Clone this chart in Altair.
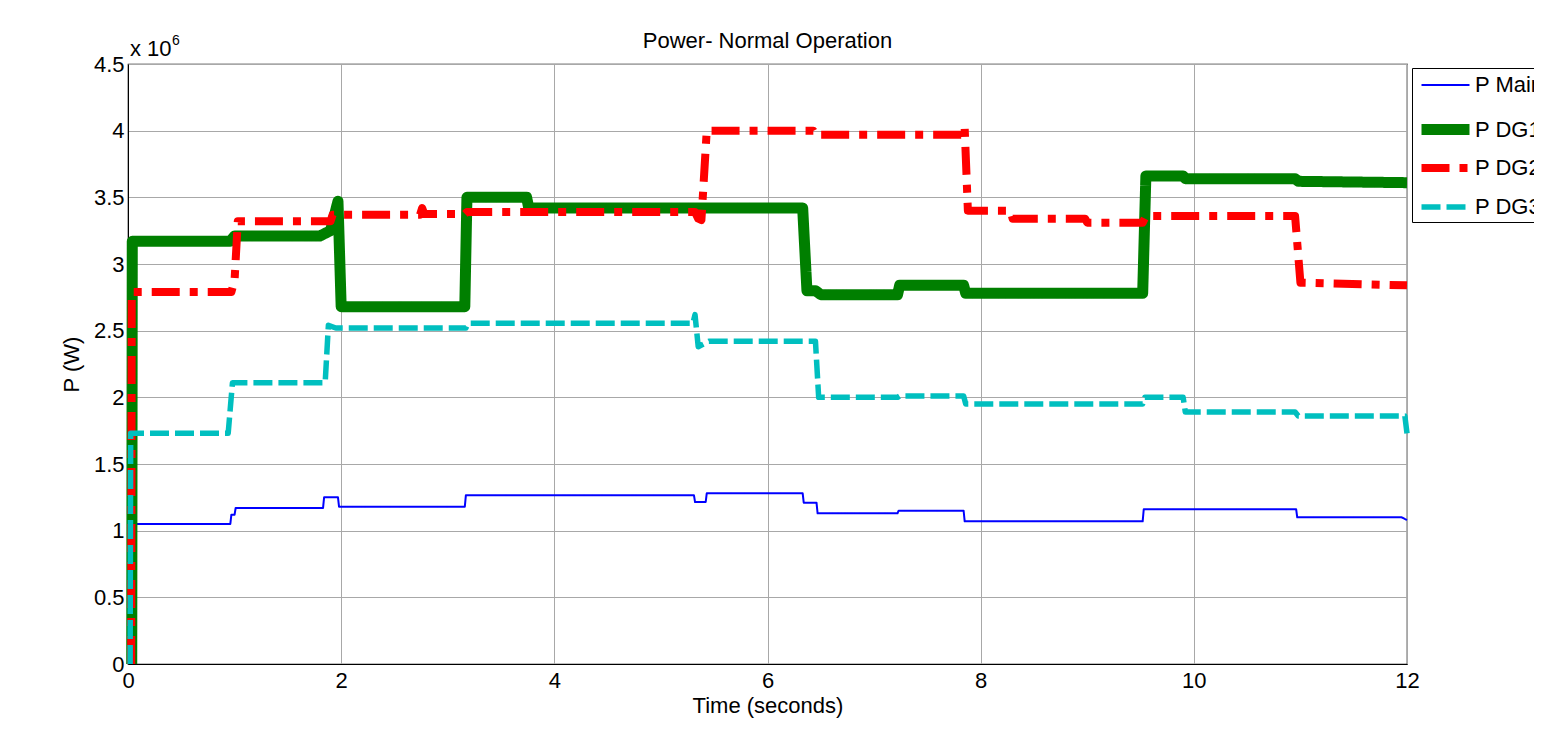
import altair as alt
import pandas as pd

series_names = ["P Main", "P DG1", "P DG2", "P DG3"]

main_t = [0.02, 0.025, 0.96, 0.97, 1.0, 1.01, 1.83, 1.84, 1.97, 1.98, 3.16, 3.17, 5.31, 5.32, 5.42, 5.43,
          6.33, 6.34, 6.46, 6.47, 7.22, 7.23, 7.84, 7.85, 9.52, 9.53, 10.96, 10.97, 11.95, 12.0]
main_v = [0, 1.05, 1.05, 1.12, 1.12, 1.17, 1.17, 1.25, 1.25, 1.18, 1.18, 1.265, 1.265, 1.215, 1.215, 1.28,
          1.28, 1.21, 1.21, 1.13, 1.13, 1.15, 1.15, 1.07, 1.07, 1.16, 1.16, 1.10, 1.10, 1.08]

dg1_t = [0.035, 0.04, 0.96, 1.0, 1.8, 1.9, 1.97, 2.0, 3.16, 3.18, 3.74, 3.76, 6.33, 6.37, 6.45, 6.5,
         7.22, 7.24, 7.84, 7.86, 9.52, 9.55, 9.9, 9.92, 10.95, 10.98, 12.0]
dg1_v = [0, 3.17, 3.17, 3.21, 3.21, 3.25, 3.47, 2.68, 2.68, 3.50, 3.50, 3.42, 3.42, 2.80, 2.80, 2.77,
         2.77, 2.84, 2.84, 2.78, 2.78, 3.66, 3.66, 3.64, 3.64, 3.62, 3.61]

dg2_t = [0.03, 0.035, 0.97, 1.0, 1.03, 1.9, 1.92, 2.74, 2.76, 2.78, 3.16, 3.18, 5.32, 5.35, 5.38, 5.43,
         6.43, 6.45, 7.84, 7.85, 7.88, 8.28, 8.30, 8.98, 9.0, 9.52, 9.55, 10.95, 11.0, 12.0]
dg2_v = [0, 2.79, 2.79, 2.88, 3.32, 3.32, 3.37, 3.37, 3.42, 3.375, 3.375, 3.39, 3.39, 3.34, 3.33, 4.0,
         4.0, 3.97, 3.97, 4.02, 3.40, 3.40, 3.34, 3.34, 3.31, 3.31, 3.36, 3.36, 2.86, 2.84]

dg3_t = [0.02, 0.025, 0.94, 0.98, 1.85, 1.88, 1.95, 3.17, 3.19, 5.3, 5.32, 5.35, 5.45, 6.45, 6.48,
         7.22, 7.24, 7.84, 7.86, 9.52, 9.54, 9.9, 9.92, 10.95, 10.98, 11.98, 12.0]
dg3_v = [0, 1.73, 1.73, 2.11, 2.11, 2.54, 2.52, 2.52, 2.555, 2.555, 2.62, 2.38, 2.42, 2.42, 2.0,
         2.0, 2.01, 2.01, 1.95, 1.95, 2.0, 2.0, 1.89, 1.89, 1.86, 1.86, 1.73]

x_ticks = [0, 2, 4, 6, 8, 10, 12]
y_ticks = [0, 0.5, 1, 1.5, 2, 2.5, 3, 3.5, 4, 4.5]

rows = []
for name, ts, vs in zip(series_names, [main_t, dg1_t, dg2_t, dg3_t], [main_v, dg1_v, dg2_v, dg3_v]):
    for i, (t, v) in enumerate(zip(ts, vs)):
        rows.append({"series": name, "t": t, "P": v, "order": i})
df = pd.DataFrame(rows)

FONT = "Liberation Sans"

lines = alt.Chart(df).mark_line(strokeCap="butt", strokeJoin="round").encode(
    x=alt.X("t:Q", title="Time (seconds)",
            scale=alt.Scale(domain=[0, 12], nice=False, zero=False),
            axis=alt.Axis(values=x_ticks, format="~g", grid=True)),
    y=alt.Y("P:Q", title="P (W)",
            scale=alt.Scale(domain=[0, 4.5], nice=False),
            axis=alt.Axis(values=y_ticks, format="~g", grid=True)),
    color=alt.Color("series:N", title=None,
                    scale=alt.Scale(domain=series_names,
                                    range=["#0000FF", "#007F00", "#FF0000", "#00BFBF"])),
    strokeWidth=alt.StrokeWidth("series:N", title=None,
                                scale=alt.Scale(type="ordinal", domain=series_names,
                                                range=[2, 11, 8, 5.5])),
    strokeDash=alt.StrokeDash("series:N", title=None,
                              scale=alt.Scale(domain=series_names,
                                              range=[[1, 0], [1, 0], [28, 10, 8, 10], [19, 6]])),
    order="order:Q",
    detail="series:N",
)

exp_text = alt.Chart(pd.DataFrame({"s": ["x 10"]})).mark_text(
    font=FONT, fontSize=22, align="left", baseline="alphabetic", color="black"
).encode(x=alt.value(2), y=alt.value(-8), text="s:N")
exp_sup = alt.Chart(pd.DataFrame({"s": ["6"]})).mark_text(
    font=FONT, fontSize=14, align="left", baseline="alphabetic", color="black"
).encode(x=alt.value(44), y=alt.value(-19), text="s:N")

chart = alt.layer(lines, exp_text, exp_sup).properties(
    width=1279, height=600,
    title=alt.TitleParams("Power- Normal Operation", font=FONT, fontSize=22,
                          fontWeight="normal", color="black", offset=6, dy=25),
    autosize=alt.AutoSizeParams(type="none"),
    padding={"left": 120, "top": 56, "right": 127, "bottom": 56},
).configure_view(
    stroke="black", strokeWidth=1.2
).configure_axis(
    labelFont=FONT, titleFont=FONT, labelFontSize=22, titleFontSize=22,
    titleFontWeight="normal", labelColor="black", titleColor="black",
    domainColor="black", ticks=False, labelFlush=False,
    gridColor="#a8a8a8", gridWidth=1, gridOpacity=1,
).configure_axisX(
    labelPadding=6, titlePadding=4
).configure_axisY(
    labelPadding=4, titlePadding=10
).configure_legend(
    orient="none", legendX=1284, legendY=4,
    labelFont=FONT, labelFontSize=22, labelColor="black",
    symbolType="M-1,0H3", symbolSize=576, gridAlign="all",
    strokeColor="black", fillColor="white", padding=4, rowPadding=-27,
    labelOffset=24, cornerRadius=0,
)

chart.save("out.html", embed_options={"renderer": "svg", "actions": False})
